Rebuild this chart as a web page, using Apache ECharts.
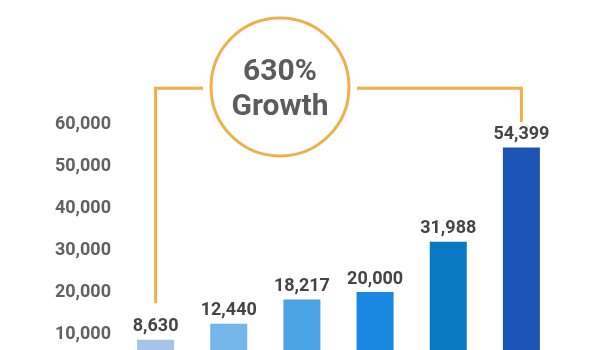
<!DOCTYPE html>
<html>
<head>
<meta charset="utf-8">
<script src="https://cdn.jsdelivr.net/npm/echarts@6/dist/echarts.min.js"></script>
<style>
html,body{margin:0;padding:0;background:#fff;}
#c{width:600px;height:350px;}
</style>
</head>
<body>
<div id="c"></div>
<script>
const categories = ['Y1', 'Y2', 'Y3', 'Y4', 'Y5', 'Y6'];
const values = [8630, 12440, 18217, 20000, 31988, 54399];
const barColors = ['#a8c3e8', '#74b6ea', '#4ca3e3', '#1a88e2', '#0a78c2', '#1c54b5'];
const yTicks = [0, 10000, 20000, 30000, 40000, 50000, 60000];
const growthText = ['630%', 'Growth'];
// annotation levels (data values) for the bracket lines
const bracketTop = 68500, bracketLeftEnd = 17300, bracketRightEnd = 60500;

const chart = echarts.init(document.getElementById('c'));
const fmt = v => v.toLocaleString('en-US');

chart.setOption({
  animation: false,
  backgroundColor: '#ffffff',
  grid: { left: 119, right: 42, top: 124, bottom: -26, containLabel: false, outerBoundsMode: 'none' },
  xAxis: {
    type: 'category',
    data: categories,
    show: false
  },
  yAxis: {
    type: 'value',
    min: yTicks[0],
    max: yTicks[yTicks.length - 1],
    interval: 10000,
    axisLine: { show: false },
    axisTick: { show: false },
    splitLine: { show: false },
    axisLabel: {
      margin: 8,
      color: '#626262',
      fontFamily: 'Roboto',
      fontWeight: 'bold',
      fontSize: 18,
      formatter: v => v === 0 ? '' : fmt(v)
    }
  },
  series: [{
    type: 'bar',
    barWidth: 37,
    data: values.map((v, i) => ({ value: v, itemStyle: { color: barColors[i] } })),
    label: {
      show: true,
      position: 'top',
      distance: 4,
      color: '#454545',
      fontFamily: 'Roboto',
      fontWeight: 'bold',
      fontSize: 18,
      formatter: p => fmt(p.value)
    }
  }]
});

const x0 = chart.convertToPixel({ xAxisIndex: 0 }, categories[0]);
const x5 = chart.convertToPixel({ xAxisIndex: 0 }, categories[categories.length - 1]);
const yTop = chart.convertToPixel({ yAxisIndex: 0 }, bracketTop);
const yL = chart.convertToPixel({ yAxisIndex: 0 }, bracketLeftEnd);
const yR = chart.convertToPixel({ yAxisIndex: 0 }, bracketRightEnd);
const cx = 280, cy = 87, r = 69, gap = 8;
const orange = '#f3ae4c';

chart.setOption({
  graphic: [
    { type: 'polyline', shape: { points: [[x0, yL], [x0, yTop], [cx - r - gap, yTop]] },
      style: { stroke: orange, lineWidth: 3, fill: null } },
    { type: 'polyline', shape: { points: [[cx + r + gap, yTop], [x5, yTop], [x5, yR]] },
      style: { stroke: orange, lineWidth: 3, fill: null } },
    { type: 'circle', shape: { cx: cx, cy: cy, r: r },
      style: { stroke: orange, lineWidth: 3, fill: '#fff' } },
    { type: 'text', x: cx, y: cy - 15,
      style: { text: growthText[0], fill: '#5c5c5c', font: 'bold 30px Roboto', align: 'center', verticalAlign: 'middle' } },
    { type: 'text', x: cx, y: cy + 20,
      style: { text: growthText[1], fill: '#5c5c5c', font: 'bold 30px Roboto', align: 'center', verticalAlign: 'middle' } }
  ]
});
</script>
</body>
</html>
